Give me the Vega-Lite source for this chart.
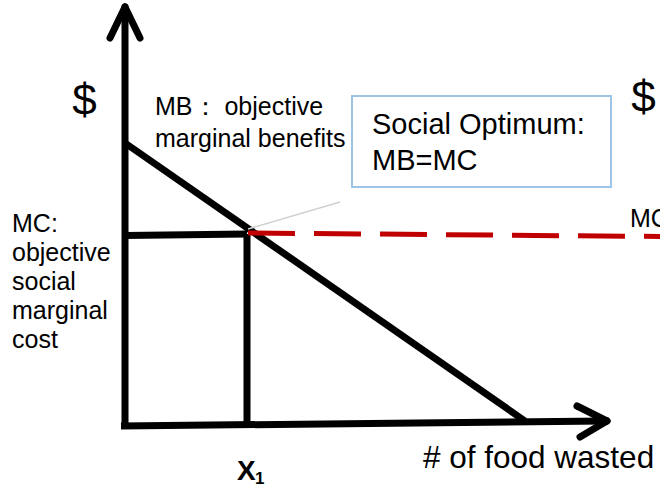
{
  "$schema": "https://vega.github.io/schema/vega-lite/v6.json",
  "width": 660,
  "height": 487,
  "autosize": {"type": "none"},
  "padding": 0,
  "background": "white",
  "config": {"view": {"stroke": null}},
  "datasets": {
    "segments": [
      {"kind": "black", "x": 0, "y": -0.35, "x2": 0, "y2": 41.6},
      {"kind": "arrow", "x": -1.5, "y": 38.7, "x2": 0, "y2": 41.8},
      {"kind": "arrow", "x": 1.5, "y": 38.7, "x2": 0, "y2": 41.8},
      {"kind": "black", "x": -0.4, "y": -0.1, "x2": 48.0, "y2": 0.4},
      {"kind": "arrow", "x": 45.2, "y": 1.9, "x2": 48.2, "y2": 0.4},
      {"kind": "arrow", "x": 45.5, "y": -1.2, "x2": 48.2, "y2": 0.4},
      {"kind": "black", "x": 0, "y": 28.2, "x2": 40, "y2": 0.4},
      {"kind": "black", "x": 0, "y": 18.95, "x2": 12.2, "y2": 19.1},
      {"kind": "black", "x": 12.2, "y": 19.1, "x2": 12.2, "y2": 0},
      {"kind": "grey", "x": 12.3, "y": 19.6, "x2": 21.5, "y2": 22.3},
      {"kind": "red", "x": 12.3, "y": 19.2, "x2": 53.5, "y2": 18.85}
    ],
    "texts": [
      {"grp": "dollar", "label": "$", "x": -4.05, "y": 31.0},
      {"grp": "dollar", "label": "$", "x": 51.85, "y": 31.3},
      {"grp": "mb", "label": "MB： objective", "x": 3.0, "y": 31.0},
      {"grp": "mb", "label": "marginal benefits", "x": 3.0, "y": 27.8},
      {"grp": "mc", "label": "MC:", "x": -11.3, "y": 19.3},
      {"grp": "mc", "label": "objective", "x": -11.3, "y": 16.4},
      {"grp": "mc", "label": "social", "x": -11.3, "y": 13.5},
      {"grp": "mc", "label": "marginal", "x": -11.3, "y": 10.6},
      {"grp": "mc", "label": "cost", "x": -11.3, "y": 7.7},
      {"grp": "mc", "label": "MC", "x": 50.5, "y": 19.8},
      {"grp": "xlab", "label": "# of food wasted", "x": 29.8, "y": -4.3},
      {"grp": "xbold", "label": "X", "x": 11.2, "y": -5.5},
      {"grp": "sub", "label": "1", "x": 13.0, "y": -5.9}
    ],
    "box": [
      {"x": 22.7, "y": 32.9, "x2": 48.6, "y2": 23.8}
    ],
    "boxtexts": [
      {"label": "Social Optimum:", "x": 24.7, "y": 29.1},
      {"label": "MB=MC", "x": 24.7, "y": 25.5}
    ]
  },
  "encoding": {
    "x": {"field": "x", "type": "quantitative", "axis": null, "scale": {"domain": [-12.5, 53.5], "nice": false, "zero": false}},
    "y": {"field": "y", "type": "quantitative", "axis": null, "scale": {"domain": [-6.2, 42.5], "nice": false, "zero": false}}
  },
  "layer": [
    {
      "data": {"name": "segments"},
      "transform": [{"filter": "datum.kind == 'black'"}],
      "mark": {"type": "rule", "color": "black", "strokeWidth": 7, "strokeCap": "butt"},
      "encoding": {"x2": {"field": "x2"}, "y2": {"field": "y2"}}
    },
    {
      "data": {"name": "segments"},
      "transform": [{"filter": "datum.kind == 'arrow'"}],
      "mark": {"type": "rule", "color": "black", "strokeWidth": 7, "strokeCap": "round"},
      "encoding": {"x2": {"field": "x2"}, "y2": {"field": "y2"}}
    },
    {
      "data": {"name": "segments"},
      "transform": [{"filter": "datum.kind == 'grey'"}],
      "mark": {"type": "rule", "color": "#d0d0d0", "strokeWidth": 1.5},
      "encoding": {"x2": {"field": "x2"}, "y2": {"field": "y2"}}
    },
    {
      "data": {"name": "segments"},
      "transform": [{"filter": "datum.kind == 'red'"}],
      "mark": {"type": "rule", "color": "#c00000", "strokeWidth": 5, "strokeDash": [47, 19], "strokeCap": "butt"},
      "encoding": {"x2": {"field": "x2"}, "y2": {"field": "y2"}}
    },
    {
      "data": {"name": "texts"},
      "transform": [{"filter": "datum.grp == 'dollar'"}],
      "mark": {"type": "text", "font": "Liberation Sans", "fontSize": 44, "align": "center", "baseline": "alphabetic", "color": "black"},
      "encoding": {"text": {"field": "label"}}
    },
    {
      "data": {"name": "texts"},
      "transform": [{"filter": "datum.grp == 'mb' || datum.grp == 'mc'"}],
      "mark": {"type": "text", "font": "Liberation Sans", "fontSize": 25, "align": "left", "baseline": "alphabetic", "color": "black"},
      "encoding": {"text": {"field": "label"}}
    },
    {
      "data": {"name": "texts"},
      "transform": [{"filter": "datum.grp == 'xlab'"}],
      "mark": {"type": "text", "font": "Liberation Sans", "fontSize": 31.5, "align": "left", "baseline": "alphabetic", "color": "black"},
      "encoding": {"text": {"field": "label"}}
    },
    {
      "data": {"name": "texts"},
      "transform": [{"filter": "datum.grp == 'xbold'"}],
      "mark": {"type": "text", "font": "Liberation Sans", "fontSize": 28, "fontWeight": "bold", "align": "left", "baseline": "alphabetic", "color": "black"},
      "encoding": {"text": {"field": "label"}}
    },
    {
      "data": {"name": "texts"},
      "transform": [{"filter": "datum.grp == 'sub'"}],
      "mark": {"type": "text", "font": "Liberation Sans", "fontSize": 17, "fontWeight": "bold", "align": "left", "baseline": "alphabetic", "color": "black"},
      "encoding": {"text": {"field": "label"}}
    },
    {
      "data": {"name": "box"},
      "mark": {"type": "rect", "fill": "white", "stroke": "#9dc3e6", "strokeWidth": 2},
      "encoding": {"x2": {"field": "x2"}, "y2": {"field": "y2"}}
    },
    {
      "data": {"name": "boxtexts"},
      "mark": {"type": "text", "font": "Liberation Sans", "fontSize": 29, "align": "left", "baseline": "alphabetic", "color": "black"},
      "encoding": {"text": {"field": "label"}}
    }
  ]
}
